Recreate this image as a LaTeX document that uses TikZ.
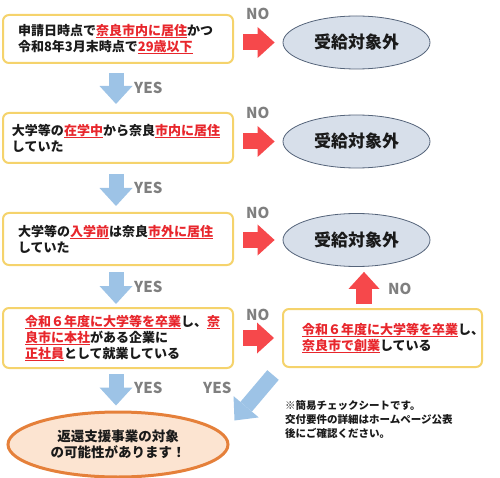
\documentclass[tikz,border=0pt]{standalone}
\usepackage{fontspec}
\setmainfont{Noto Sans CJK JP}
\usepackage{tikz}
\usetikzlibrary{arrows.meta,positioning,calc,shapes.geometric}
\definecolor{chkyellow}{HTML}{F5D36C}
\definecolor{chkred}{HTML}{E8262C}
\definecolor{chkarrowred}{HTML}{F6484B}
\definecolor{chkblue}{HTML}{9DC3E6}
\definecolor{chkgrey}{HTML}{7F7F7F}
\definecolor{chkoval}{HTML}{D7DFEA}
\definecolor{chkovalline}{HTML}{55647A}
\definecolor{chkorange}{HTML}{E5803A}
\definecolor{chkpeach}{HTML}{FCE4D1}
\definecolor{chkink}{HTML}{1A1A1A}

% red, underlined words
\newcommand{\redul}[1]{\textcolor{chkred}{\setbox0\hbox{#1}\rlap{\rule[-3pt]{\wd0}{1.1pt}}\box0}}

\begin{document}
\begin{tikzpicture}[
  x=1pt, y=-1pt,
  font=\bfseries\fontsize{13}{16}\selectfont, text=chkink,
  cond/.style={draw=chkyellow, line width=2pt, rounded corners=6pt, fill=white,
               align=left, inner ysep=0pt},
  outcome/.style={ellipse, draw=chkovalline, line width=0.8pt, fill=chkoval,
                  minimum width=147pt, minimum height=53pt,
                  font=\bfseries\fontsize{17}{20}\selectfont},
  goal/.style={ellipse, draw=chkorange, line width=3pt, fill=chkpeach,
               minimum width=220pt, minimum height=65pt, align=center,
               font=\bfseries\fontsize{13.5}{16}\selectfont},
  tag/.style={text=chkgrey, font=\bfseries\fontsize{15}{15}\selectfont,
              inner sep=0pt, anchor=west},
  yesarr/.style={chkblue, line width=15pt,
                 -{Triangle[length=18pt, width=33pt, line width=0pt]}},
  noarr/.style={chkarrowred, line width=16pt,
                -{Triangle[length=17pt, width=31pt, line width=0pt]}}
]
\useasboundingbox (0,0) rectangle (500,478);

% conditions
\node[cond, minimum width=230pt, minimum height=48pt, text width=200pt, inner xsep=15pt] (q1) at (118,39)
  {申請日時点で\redul{奈良市内に居住}かつ\\令和8年3月末時点で\redul{29歳以下}};
\node[cond, minimum width=230pt, minimum height=50pt, text width=212pt, inner xsep=9pt] (q2) at (118,138)
  {大学等の\redul{在学中}から奈良\redul{市内に居住}\\していた};
\node[cond, minimum width=230pt, minimum height=52pt, text width=200pt, inner xsep=15pt] (q3) at (118,239)
  {大学等の\redul{入学前}は奈良\redul{市外に居住}\\していた};
\node[cond, minimum width=230pt, minimum height=60pt, text width=186pt, inner xsep=22pt] (q4) at (118,338)
  {\redul{令和６年度に大学等を卒業}し、\redul{奈}\\\redul{良市に本社}がある企業に\\\redul{正社員}として就業している};
\node[cond, minimum width=199pt, minimum height=58pt, text width=161pt, inner xsep=19pt] (q5) at (382.5,338)
  {\redul{令和６年度に大学等を卒業}し、\\\redul{奈良市で創業}している};

% outcomes
\node[outcome] (n1) at (356.5,42.5) {受給対象外};
\node[outcome] (n2) at (356.5,141.5) {受給対象外};
\node[outcome] (n3) at (356.5,240) {受給対象外};
\node[goal] (goal) at (118,444.5) {返還支援事業の対象\\の可能性があります！};

\node[anchor=west, align=left, inner sep=2pt, font=\bfseries\fontsize{10.5}{14}\selectfont] (memo) at (283,419)
  {※簡易チェックシートです。\\交付要件の詳細はホームページ公表\\後にご確認ください。};

% YES arrows
\draw[yesarr] ([xshift=-2pt,yshift=-9pt]q1.south) -- ([xshift=-2pt,yshift=8pt]q2.north);
\draw[yesarr] ([xshift=-2pt,yshift=-10pt]q2.south) -- ([xshift=-2pt,yshift=6pt]q3.north);
\draw[yesarr] ([xshift=-2pt,yshift=-6pt]q3.south) -- ([xshift=-2pt,yshift=3pt]q4.north);
\draw[yesarr] ([xshift=-2pt,yshift=-5pt]q4.south) -- ([xshift=-2pt,yshift=5pt]goal.north);
\draw[yesarr] ([xshift=-9pt,yshift=-7pt]q5.south west) -- ([xshift=5pt,yshift=24pt]goal.east);

% NO arrows
\draw[noarr] ([xshift=9pt]q1.east |- n1.west) -- ([xshift=-8pt]n1.west);
\draw[noarr] ([xshift=9pt]q2.east |- n2.west) -- ([xshift=-8pt]n2.west);
\draw[noarr] ([xshift=9pt]q3.east |- n3.west) -- ([xshift=-8pt]n3.west);
\draw[noarr] ([xshift=9pt]q4.east) -- ([xshift=-8pt]q5.west);
\coordinate (upfoot) at ([xshift=-18.5pt,yshift=4pt]q5.north);
\draw[noarr] (upfoot) -- ($(upfoot |- n3.south)+(0,5)$);

% labels
\node[tag] (yes1) at (134,87.5) {YES};
\node[tag] (yes2) at (134,188) {YES};
\node[tag] (yes3) at (134,287) {YES};
\node[tag] (yes4) at (134,388) {YES};
\node[tag] (yes5) at (203,388) {YES};
\node[tag] (no1) at (246,14) {NO};
\node[tag] (no2) at (246,113) {NO};
\node[tag] (no3) at (246,213) {NO};
\node[tag] (no4) at (246,315) {NO};
\node[tag] (no5) at (388,289) {NO};

\end{tikzpicture}
\end{document}
